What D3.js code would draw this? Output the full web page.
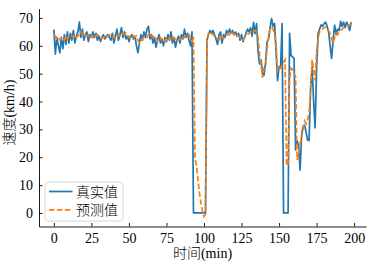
<!DOCTYPE html>
<html>
<head>
<meta charset="utf-8">
<script src="https://cdn.jsdelivr.net/npm/d3@7"></script>
<style>
  body { margin: 0; background: #fff; }
  svg text { font-family: "Liberation Serif", "Noto Sans CJK SC", serif; font-size: 14px; fill: #000; }
  svg text.cjk { font-weight: 300; }
</style>
</head>
<body>
<div id="chart"></div>
<script>
// 真实值 (real speed, km/h), one value per minute
const realSpeed = [
  65.8, 57, 63, 60, 57.5, 63, 59, 64, 60.5, 65,
  61, 64.5, 62, 65.5, 61, 63.5, 65, 68.5, 63, 66,
  62, 64, 65, 61.5, 64, 63, 65, 63, 64.5, 62,
  63.5, 61.5, 63, 64, 62.5, 63.5, 64, 63, 62, 64.5,
  61, 63.5, 66, 62, 64, 66.5, 63, 65, 62.5, 63.5,
  61.5, 63, 64, 62.5, 63.5, 60, 57.5, 61, 64, 62,
  65, 63, 66, 67, 62.5, 64, 61, 63, 59.5, 62,
  64, 61, 62.5, 60, 63, 61.5, 64, 62, 65, 61,
  63, 59.5, 62, 63.5, 61, 64, 62.5, 66, 63, 64.5,
  62, 60, 65, 0, 0, 0, 0, 0, 0, 0,
  0, 0, 62, 64, 65.5, 64.5, 65.5, 64, 62.5, 60.5,
  64, 65, 61, 64, 63, 65.5, 64, 66, 64.5, 65.5,
  64, 65, 63.5, 64.5, 62, 64, 61.5, 63, 64.5, 66,
  65, 66.5, 63.5, 68.4, 64.4, 68, 58, 53.5, 55, 50,
  49.5, 54, 61.5, 62.5, 66.5, 69.8, 67, 68, 58, 47.5,
  52.5, 52, 68, 0, 0, 0, 0, 64.5, 56.5, 56,
  55.5, 22.6, 26, 24, 15.4, 28, 31, 31.5, 29, 26.2,
  26, 45, 52.5, 40, 30.5, 52, 64.5, 66, 67.5, 67,
  68, 68.5, 67, 65, 60, 55.5, 62, 67.4, 64, 66,
  65.5, 68.8, 67, 68.5, 66.5, 68.5, 67.5, 65.5, 68.5
];

// 预测值 (predicted speed)
const predSpeed = [
  64, 63.5, 62.5, 63, 62, 62.5, 63, 62, 63.5, 62.5,
  63.5, 63, 63.5, 63, 64, 63, 63.5, 64, 65, 64,
  64.5, 63.5, 63.5, 64, 63, 63.5, 63, 64, 63.5, 64,
  63.5, 63, 62.5, 63, 63.5, 63, 63.5, 64, 63.5, 63,
  63.5, 62.5, 63, 64, 63.5, 64, 64.5, 64, 64.5, 63.5,
  63.5, 62.5, 63, 63.5, 63, 63.5, 62, 61, 61.5, 62.5,
  63, 63.5, 63, 64, 64.5, 63.5, 63.5, 62.5, 63, 61.5,
  62, 63, 62, 62.5, 61.5, 62.5, 62, 63, 62.5, 63.5,
  62.5, 62.5, 61.5, 62, 62.5, 62, 63, 63, 64, 63.5,
  64, 63, 61.5, 62.5, 19.5, 17, 12, 7, 3.5, 0.5,
  -1.3, -0.5, 62, 64.5, 65, 64.5, 64, 63.5, 63, 62.5,
  62, 63.5, 63, 62.5, 63.5, 64, 64.5, 64, 65, 64.5,
  64, 64.5, 64, 63.5, 63, 62.5, 62, 63, 63.5, 64,
  64.5, 65, 65.5, 65, 65.5, 65, 63, 57, 53, 48.6,
  52, 53, 59, 63, 66, 66.8, 66, 64, 60.5, 51,
  52, 52, 53, 54, 55, 17, 17.5, 48, 52, 51.5,
  50, 49, 19, 21, 25, 27, 30, 33, 32, 33.5,
  36, 44, 55, 52, 47.5, 58, 62.5, 65, 65.5, 66,
  66.5, 66.7, 66, 65.5, 64.5, 62.5, 61, 63, 64.5, 64,
  65, 65.5, 66, 66.5, 67, 67.4, 67, 67.5, 67.8
];

const xTicks = [0, 25, 50, 75, 100, 125, 150, 175, 200];
const yTicks = [0, 10, 20, 30, 40, 50, 60, 70];
const seriesNames = ["真实值", "预测值"];
const seriesColors = ["#1f77b4", "#ff7f0e"];

const width = 373, height = 265;
const plot = { left: 39, right: 366, top: 8.6, bottom: 226.5 };

const svg = d3.select('#chart')
  .append('svg')
  .attr('width', width)
  .attr('height', height);

// matplotlib style 5% padding around the data
const n = realSpeed.length;
const xPad = (n - 1) * 0.05;
const allVals = realSpeed.concat(predSpeed);
const [yMin, yMax] = d3.extent(allVals);
const yPad = (yMax - yMin) * 0.05;

const xScale = d3.scaleLinear()
  .domain([-xPad, n - 1 + xPad])
  .range([plot.left, plot.right]);

const yScale = d3.scaleLinear()
  .domain([yMin - yPad, yMax + yPad])
  .range([plot.bottom, plot.top]);

const line = d3.line()
  .x((d, i) => xScale(i))
  .y(d => yScale(d));

svg.append('path')
  .datum(realSpeed)
  .attr('fill', 'none')
  .attr('stroke', seriesColors[0])
  .attr('stroke-width', 1.7)
  .attr('stroke-linejoin', 'round')
  .attr('d', line);

svg.append('path')
  .datum(predSpeed)
  .attr('fill', 'none')
  .attr('stroke', seriesColors[1])
  .attr('stroke-width', 1.7)
  .attr('stroke-dasharray', '5.5,2.4')
  .attr('d', line);

// axes, ticks pointing inward
const xAxis = d3.axisBottom(xScale).tickValues(xTicks).tickSizeInner(-3.5).tickSizeOuter(0).tickPadding(7);
const yAxis = d3.axisLeft(yScale).tickValues(yTicks).tickSizeInner(-3.5).tickSizeOuter(0).tickPadding(6);

const gx = svg.append('g')
  .attr('transform', `translate(0,${plot.bottom})`)
  .call(xAxis);
const gy = svg.append('g')
  .attr('transform', `translate(${plot.left},0)`)
  .call(yAxis);

[gx, gy].forEach(g => {
  g.select('.domain').attr('stroke', '#000').attr('stroke-width', 0.9);
  g.selectAll('.tick line').attr('stroke', '#000').attr('stroke-width', 0.9);
  g.selectAll('text').attr('font-size', null).attr('font-family', null).style('font-size', '14px');
});

// axis labels
svg.append('text')
  .attr('class', 'cjk')
  .attr('text-anchor', 'middle')
  .attr('x', (plot.left + plot.right) / 2)
  .attr('y', 258)
  .text('时间(min)');

svg.append('text')
  .attr('class', 'cjk')
  .attr('text-anchor', 'middle')
  .attr('transform', `translate(14,${(plot.top + plot.bottom) / 2 - 5}) rotate(-90)`)
  .text('速度(km/h)');

// legend
const legend = svg.append('g').attr('transform', 'translate(45,182)');
legend.append('rect')
  .attr('width', 78).attr('height', 39)
  .attr('rx', 3)
  .attr('fill', '#fff').attr('fill-opacity', 0.8)
  .attr('stroke', '#ccc').attr('stroke-width', 0.8);

seriesNames.forEach((name, i) => {
  const y = 9.5 + i * 18.3;
  legend.append('line')
    .attr('x1', 4).attr('x2', 27.5)
    .attr('y1', y).attr('y2', y)
    .attr('stroke', seriesColors[i])
    .attr('stroke-width', 1.7)
    .attr('stroke-dasharray', i === 1 ? '5.5,2.4' : null);
  legend.append('text')
    .attr('class', 'cjk')
    .attr('x', 31)
    .attr('y', y + 5)
    .text(name);
});
</script>
</body>
</html>
